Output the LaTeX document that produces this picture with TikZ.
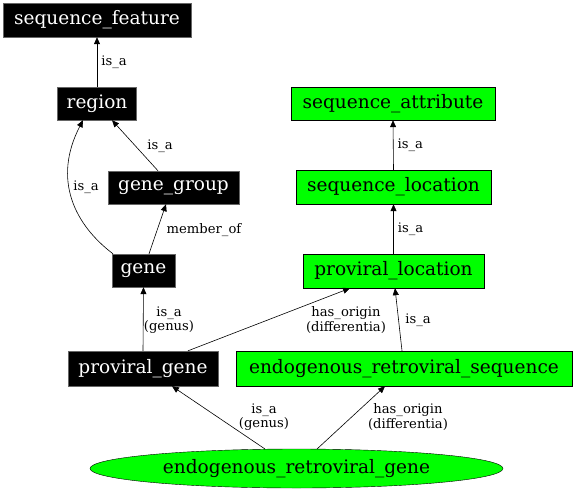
\documentclass[tikz,border=0pt]{standalone}
\usepackage{fontspec}
\setmainfont{DejaVu Serif}
\usetikzlibrary{arrows.meta,shapes.geometric}
\begin{document}
\begin{tikzpicture}[x=1bp,y=-1bp,
  blk/.style={draw=black!60,fill=black,text=white,inner sep=0pt,font=\fontsize{18.6}{20}\selectfont},
  grn/.style={draw=black,fill=green,text=black,inner sep=0pt,font=\fontsize{18.6}{20}\selectfont},
  edge/.style={-{Triangle[length=7bp,width=6bp]},black,line width=0.6pt},
  lbl/.style={font=\fontsize{13.2}{12.5}\selectfont,align=center,inner sep=0pt}]
\useasboundingbox (0,0) rectangle (576,492);
\fill[white] (0,0) rectangle (576,492);
\node[blk,minimum width=188bp,minimum height=34bp] (sf) at (97,20) {sequence\_feature};
\node[blk,minimum width=79bp,minimum height=33bp] (reg) at (97,103.5) {region};
\node[blk,minimum width=131bp,minimum height=33bp] (gg) at (173.5,187.5) {gene\_group};
\node[blk,minimum width=63bp,minimum height=33bp] (gene) at (143.5,270.5) {gene};
\node[grn,minimum width=204bp,minimum height=33bp] (sa) at (393,103.5) {sequence\_attribute};
\node[grn,minimum width=195bp,minimum height=34bp] (sl) at (393.5,187) {sequence\_location};
\node[grn,minimum width=181bp,minimum height=34bp] (pl) at (393.5,271) {proviral\_location};
\node[blk,minimum width=150bp,minimum height=35bp] (pg) at (143,368.5) {proviral\_gene};
\node[grn,minimum width=336bp,minimum height=35bp] (ers) at (404,368.5) {endogenous\_retroviral\_sequence};
\node[ellipse,draw=black,fill=green,inner sep=0pt,minimum width=413bp,minimum height=39bp,font=\fontsize{18.6}{20}\selectfont] (erg) at (296.5,468.5) {endogenous\_retroviral\_gene};
\draw[edge] (reg.north) -- (sf.south) node[lbl,midway,right=4bp] {is\_a};
\draw[edge] (gg.north -| 158,0) -- (reg.south -| 112,0);
\node[lbl] (l1) at (160,146) {is\_a};
\draw[edge] (gene.north -| 113,0) .. controls (75,225) and (52,180) .. (reg.south -| 83,0);
\node[lbl] (l2) at (86,187) {is\_a};
\draw[edge] (gene.north -| 149,0) -- (gg.south -| 166,0);
\node[lbl] (l3) at (204,230) {member\_of};
\draw[edge] (sl.north) -- (sa.south) node[lbl,midway,right=4bp] {is\_a};
\draw[edge] (pl.north) -- (sl.south) node[lbl,midway,right=4bp] {is\_a};
\draw[edge] (pg.north) -- (gene.south);
\node[lbl] (l4) at (169,320) {is\_a\\(genus)};
\draw[edge] (pg.north -| 188,0) -- (pl.south -| 350,0);
\node[lbl] (l5) at (346,320) {has\_origin\\(differentia)};
\draw[edge] (ers.north -| 402,0) -- (pl.south -| 395,0);
\node[lbl] (l6) at (418,320) {is\_a};
\draw[edge] (265,449) -- (pg.south -| 172,0);
\node[lbl] (l7) at (264,417) {is\_a\\(genus)};
\draw[edge] (317,449) -- (ers.south -| 385,0);
\node[lbl] (l8) at (408,417) {has\_origin\\(differentia)};
\end{tikzpicture}
\end{document}
